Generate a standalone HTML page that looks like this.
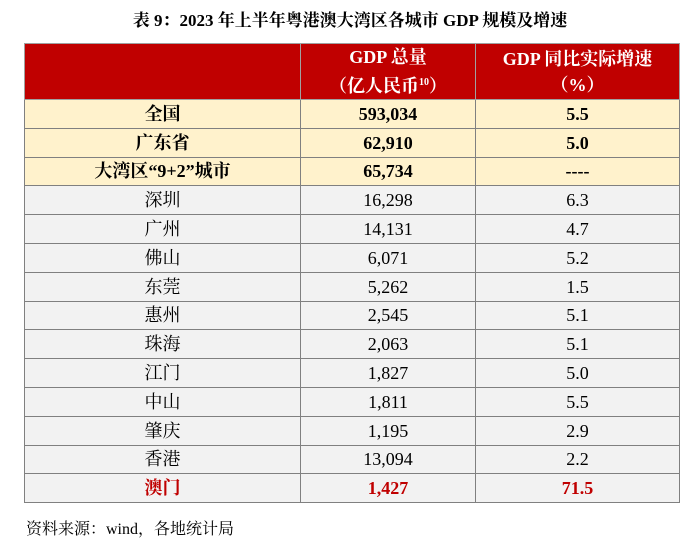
<!DOCTYPE html>
<html><head><meta charset="utf-8">
<style>
html,body{margin:0;padding:0;background:#fff;width:700px;height:552px;overflow:hidden;font-family:"Liberation Serif","Noto Serif CJK SC",serif;}
#title{position:absolute;left:0;top:6px;width:700px;text-align:center;font-weight:bold;font-size:17px;color:#000;}
table{position:absolute;left:24px;top:43px;border-collapse:collapse;table-layout:fixed;font-family:"Liberation Serif","Noto Serif CJK SC",serif;}
td{border:1px solid #808080;text-align:center;padding:0;font-size:18px;color:#000;height:27.8px;line-height:20px;}
tr.head td{background:#c00000;color:#fff;height:55px;font-size:18px;line-height:26px;border-color:#a0a0a0;font-weight:bold;}
tr.hl td{background:#fff2cc;font-weight:bold;}
tr.city td{background:#f2f2f2;}
tr.red td{color:#c00000;font-weight:bold;background:#f2f2f2;}
sup{font-size:10px;}
#src{position:absolute;left:26px;top:516px;font-size:16px;}
</style></head><body>
<div id="title">表 9：2023 年上半年粤港澳大湾区各城市 GDP 规模及增速</div>
<table>
<colgroup><col style="width:276px"><col style="width:175px"><col style="width:204px"></colgroup>
<tr class="head"><td></td><td>GDP 总量<br>（亿人民币<sup>10</sup>）</td><td>GDP 同比实际增速<br>（%）</td></tr>
<tr class="hl"><td>全国</td><td>593,034</td><td>5.5</td></tr>
<tr class="hl"><td>广东省</td><td>62,910</td><td>5.0</td></tr>
<tr class="hl"><td>大湾区“9+2”城市</td><td>65,734</td><td>----</td></tr>
<tr class="city"><td>深圳</td><td>16,298</td><td>6.3</td></tr>
<tr class="city"><td>广州</td><td>14,131</td><td>4.7</td></tr>
<tr class="city"><td>佛山</td><td>6,071</td><td>5.2</td></tr>
<tr class="city"><td>东莞</td><td>5,262</td><td>1.5</td></tr>
<tr class="city"><td>惠州</td><td>2,545</td><td>5.1</td></tr>
<tr class="city"><td>珠海</td><td>2,063</td><td>5.1</td></tr>
<tr class="city"><td>江门</td><td>1,827</td><td>5.0</td></tr>
<tr class="city"><td>中山</td><td>1,811</td><td>5.5</td></tr>
<tr class="city"><td>肇庆</td><td>1,195</td><td>2.9</td></tr>
<tr class="city"><td>香港</td><td>13,094</td><td>2.2</td></tr>
<tr class="red"><td>澳门</td><td>1,427</td><td>71.5</td></tr>
</table>
<div id="src">资料来源：wind，各地统计局</div>
</body></html>
